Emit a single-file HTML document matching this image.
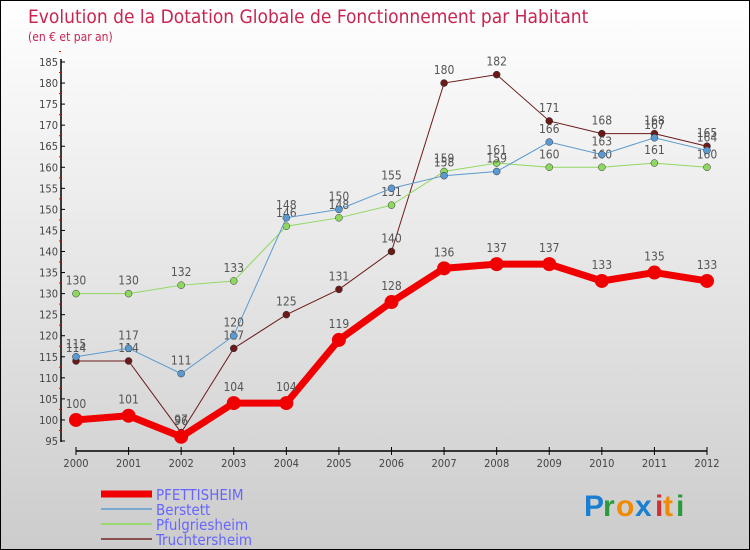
<!DOCTYPE html>
<html><head><meta charset="utf-8"><style>
body{margin:0;}
#c{width:748px;height:548px;border:1px solid #000;background:linear-gradient(#fff,#ccc);position:relative;font-family:"DejaVu Sans Condensed","Liberation Sans",sans-serif;overflow:hidden}
svg{position:absolute;left:0;top:0}
</style></head><body>
<div id="c">
<svg id="s" width="750" height="550" xmlns="http://www.w3.org/2000/svg">
<text x="27" y="22" font-size="19" fill="#c8254f">Evolution de la Dotation Globale de Fonctionnement par Habitant</text>
<text x="27" y="40" font-size="12" fill="#c8254f">(en € et par an)</text>
<g id="axes"></g><g id="plot"></g><g id="legend"></g>
<g font-size="30" font-family="Liberation Sans,sans-serif" font-weight="bold">
<text x="583" y="515" fill="#1a7fd0">P</text><text x="602" y="515" fill="#2a9a3a">r</text><text x="615" y="515" fill="#f08a00">o</text><text x="634" y="515" fill="#1a7fd0">x</text><text x="654" y="515" fill="#d03030">i</text><text x="662" y="515" fill="#f08a00">t</text><text x="675" y="515" fill="#2a9a3a">i</text>
</g>
</svg></div>
<script>
const years=[2000,2001,2002,2003,2004,2005,2006,2007,2008,2009,2010,2011,2012];
const yTicks=[95,100,105,110,115,120,125,130,135,140,145,150,155,160,165,170,175,180,185];
const pfettisheim=[100,101,96,104,104,119,128,136,137,137,133,135,133];
const berstett=[115,117,111,120,148,150,155,158,159,166,163,167,164];
const pfulgriesheim=[130,130,132,133,146,148,151,159,161,160,160,161,160];
const truchtersheim=[114,114,97,117,125,131,140,180,182,171,168,168,165];
const NS="http://www.w3.org/2000/svg";
const X=i=>75+i*(706-75)/12;
const Y=v=>440-(v-95)*(440-61)/90;
function el(t,a,p){const e=document.createElementNS(NS,t);for(const k in a)e.setAttribute(k,a[k]);p.appendChild(e);return e;}
const ax=document.getElementById('axes'),pl=document.getElementById('plot'),lg=document.getElementById('legend');
let yl=el('line',{x1:60,y1:58,x2:60,y2:441,stroke:'#000','stroke-width':1.5},ax);


let xl=el('line',{x1:75,y1:450,x2:706,y2:450,stroke:'#000','stroke-width':1.5},ax);


yTicks.forEach(v=>{
  el('line',{x1:60,y1:Y(v),x2:64,y2:Y(v),stroke:'#000'},ax);
  el('line',{x1:58,y1:Y(v+2.5),x2:60,y2:Y(v+2.5),stroke:'#e00'},ax);
  const t=el('text',{x:57,y:Y(v)+4,'font-size':11,'text-anchor':'end',fill:'#444'},ax);t.textContent=v;
  
  
});
years.forEach((y,i)=>{
  el('line',{x1:X(i),y1:446,x2:X(i),y2:454,stroke:'#000'},ax);
  const t=el('text',{x:X(i),y:466,'font-size':11,'text-anchor':'middle',fill:'#444'},ax);t.textContent=y;
  
  
});
const series=[
 {name:'Truchtersheim',d:truchtersheim,c:'#6b1a1a',w:1,r:3.5},
 {name:'Pfulgriesheim',d:pfulgriesheim,c:'#8fd860',w:1,r:3.5},
 {name:'Berstett',d:berstett,c:'#5a9ad0',w:1,r:3.5},
 {name:'PFETTISHEIM',d:pfettisheim,c:'#f00000',w:7,r:7}];
series.forEach(s=>{
  const g=el('g',{},pl);
  
  
  el('polyline',{points:s.d.map((v,i)=>X(i)+','+Y(v)).join(' '),fill:'none',stroke:s.c,'stroke-width':s.w},g);
  s.d.forEach((v,i)=>{
    const c=el('circle',{cx:X(i),cy:Y(v),r:s.r,fill:s.c,stroke:s.w>1?'none':'#333','stroke-width':0.5},g);
    
    
    const t=el('text',{x:X(i),y:Y(v)-(s.w>1?12:9),'font-size':12,'text-anchor':'middle',fill:'#555'},g);t.textContent=v;
    
    
  });
});
const leg=[['PFETTISHEIM','#f00000',7],['Berstett','#7aaad0',2],['Pfulgriesheim','#9ad870',2],['Truchtersheim','#8a5050',2]];
leg.forEach((l,i)=>{
  const g=el('g',{},lg);
  
  
  const y=493+i*15;
  el('line',{x1:100,y1:y,x2:151,y2:y,stroke:l[1],'stroke-width':l[2]},g);
  const t=el('text',{x:155,y:y+6,'font-size':15,fill:'#6666ff'},g);t.textContent=l[0];
});
</script>
</body></html>
